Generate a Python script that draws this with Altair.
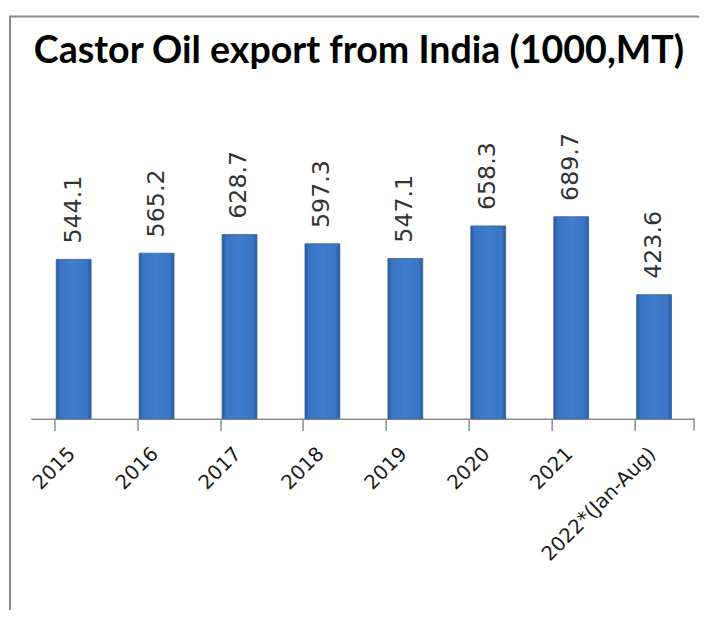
import altair as alt
import pandas as pd

years = ["2015", "2016", "2017", "2018", "2019", "2020", "2021", "2022*(Jan-Aug)"]
exports = [544.1, 565.2, 628.7, 597.3, 547.1, 658.3, 689.7, 423.6]
labels = ["544.1", "565.2", "628.7", "597.3", "547.1", "658.3", "689.7", "423.6"]
title_text = "Castor Oil export from India (1000,MT)"

df = pd.DataFrame({"year": years, "value": exports, "label": labels})

x_enc = alt.X(
    "year:N",
    sort=years,
    scale=alt.Scale(paddingInner=0.58, paddingOuter=0.29),
    axis=alt.Axis(
        title=None,
        labelAngle=-45,
        labelAlign="right",
        labelBaseline="middle",
        labelFont="DejaVu Sans",
        labelFontSize=20,
        labelColor="#1a1a1a",
        labelPadding=20,
        tickSize=12,
        tickColor="#8c8c8c",
        tickWidth=1.5,
        domainColor="#8c8c8c",
        domainWidth=1.5,
        bandPosition=0,
        grid=False,
    ),
)
y_enc = alt.Y("value:Q", scale=alt.Scale(domain=[0, 800]), axis=None)

gradient = alt.Gradient(
    gradient="linear",
    x1=0, x2=1, y1=0, y2=0,
    stops=[
        alt.GradientStop(color="#2b5a9c", offset=0),
        alt.GradientStop(color="#3a74c4", offset=0.12),
        alt.GradientStop(color="#3f7dcd", offset=0.5),
        alt.GradientStop(color="#3a74c4", offset=0.88),
        alt.GradientStop(color="#2b5a9c", offset=1),
    ],
)

base = alt.Chart(df)

bars = base.mark_bar(fill=gradient, stroke="#2f5f9f", strokeWidth=0.8, xOffset=1.5).encode(x=x_enc, y=y_enc)

text = base.mark_text(
    angle=270, align="left", baseline="middle", dx=16, xOffset=1.5,
    font="DejaVu Sans", fontSize=24, color="#333333",
).encode(x=x_enc, y=y_enc, text="label:N")

frame_df = pd.DataFrame({"k": [0], "t": [title_text]})
left_border = alt.Chart(frame_df).mark_rule(color="#8a8a8a", strokeWidth=2).encode(
    x=alt.value(-21), y=alt.value(-170), y2=alt.value(440)
)
top_border = alt.Chart(frame_df).mark_rule(color="#8a8a8a", strokeWidth=2).encode(
    x=alt.value(-22), x2=alt.value(680), y=alt.value(-170)
)
end_tick = alt.Chart(frame_df).mark_rule(color="#8c8c8c", strokeWidth=1.5).encode(
    x=alt.value(671), y=alt.value(237), y2=alt.value(249)
)
title = alt.Chart(frame_df).mark_text(
    font="Lato", fontSize=38, fontWeight="bold", color="#000000",
    align="center", baseline="alphabetic",
).encode(x=alt.value(332), y=alt.value(-123), text="t:N")

chart = alt.layer(left_border, top_border, bars, text, end_tick, title).properties(
    width=671,
    height=237,
    autosize=alt.AutoSizeParams(type="none"),
    padding={"left": 23, "top": 175, "right": 5, "bottom": 190},
).configure_view(stroke=None)

chart.save("out.html", embed_options={"renderer": "svg", "actions": False})
